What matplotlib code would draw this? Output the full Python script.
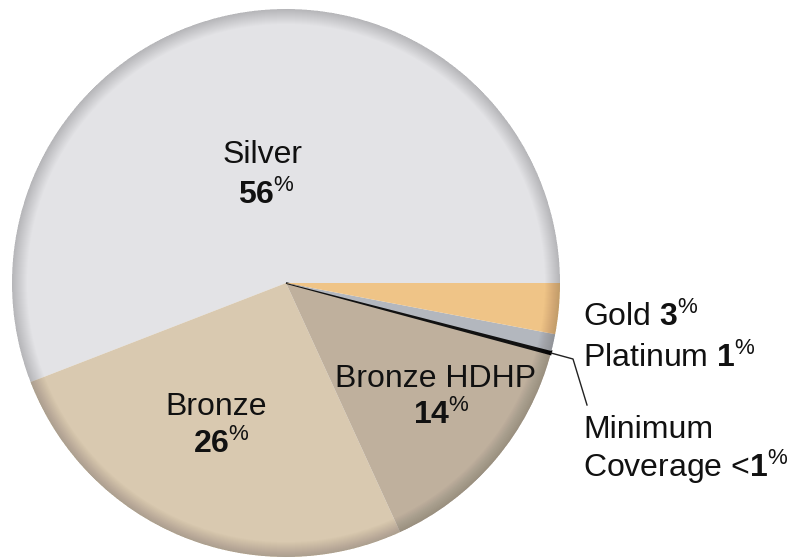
import matplotlib
matplotlib.use("Agg")
import matplotlib.pyplot as plt
from matplotlib.patches import Wedge

plt.rcParams["font.family"] = ["Liberation Sans", "DejaVu Sans"]
plt.rcParams["mathtext.fontset"] = "custom"
plt.rcParams["mathtext.rm"] = "Liberation Sans"
plt.rcParams["mathtext.bf"] = "Liberation Sans:bold"
plt.rcParams["mathtext.it"] = "Liberation Sans:italic"

# plan shares, counter-clockwise from 3 o'clock
plans = ["Silver", "Bronze", "Bronze HDHP", "Minimum Coverage", "Platinum", "Gold"]
shares = [56, 26, 14, 0.2, 1, 3]
colors = ["#e3e3e6", "#d9c9b0", "#bfb09d", "#111111", "#b3b7be", "#efc487"]

W, H = 791, 558
cx, cy, R = 286, H - 283, 274

fig = plt.figure(figsize=(W / 100, H / 100), dpi=100)
ax = fig.add_axes([0, 0, 1, 1])

wedges, _ = ax.pie(shares, colors=colors, startangle=0, counterclock=True,
                   center=(cx, cy), radius=R, frame=True,
                   wedgeprops=dict(linewidth=0))
# the tiny slice reads as a black line
wedges[3].set_edgecolor("#111111")
wedges[3].set_linewidth(1.3)
ax.set_xlim(0, W)
ax.set_ylim(0, H)
ax.axis("off")

# darker rim towards the edge
for i in range(15):
    ax.add_patch(Wedge((cx, cy), R, 0, 360, width=15 - i,
                       facecolor="black", alpha=0.011, linewidth=0))


def y(px):
    return H - px


fs = 23
kw = dict(ha="left", va="baseline", fontsize=fs, color="#111111")
ax.text(223, y(163), "Silver", **kw)
ax.text(238, y(204), r"$\mathbf{56}^{\%}$", **kw)
ax.text(165, y(415), "Bronze", **kw)
ax.text(193, y(453), r"$\mathbf{26}^{\%}$", **kw)
ax.text(335, y(387), "Bronze HDHP", **kw)
ax.text(413, y(424), r"$\mathbf{14}^{\%}$", **kw)

ax.text(583, y(326), r"Gold $\mathbf{3}^{\%}$", **kw)
ax.text(583, y(367), r"Platinum $\mathbf{1}^{\%}$", **kw)
ax.text(583, y(438), "Minimum", **kw)
ax.text(583, y(477), r"Coverage <$\mathbf{1}^{\%}$", **kw)

# leader for the minimum coverage slice
ax.plot([551, 573, 587], [y(353), y(359), y(405)], color="#222222", lw=1)

fig.savefig("out.png", dpi=100)
